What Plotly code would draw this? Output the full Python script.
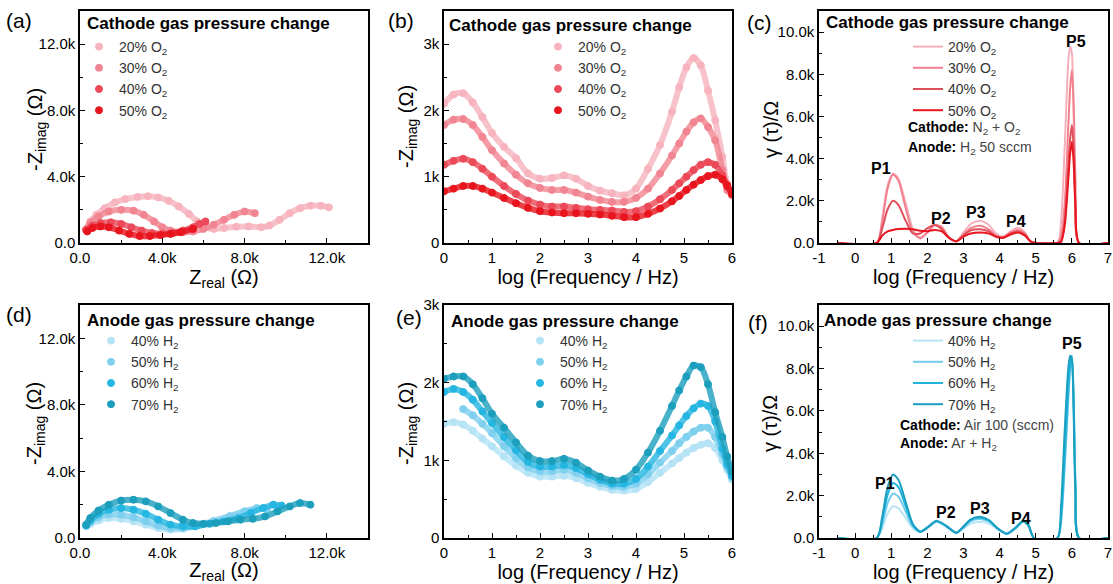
import plotly.graph_objects as go

W, H = 1113, 584

# ---------------- data (impedance values in kOhm) ----------------
# (a) Nyquist, cathode O2 change
a20_zre = [0.3, 0.5, 0.8, 1.2, 1.7, 2.2, 2.8, 3.3, 3.8, 4.3, 4.8, 5.3, 5.7, 6.1, 6.5, 7.0, 7.6, 8.2, 8.8, 9.2, 9.7, 10.2, 10.7, 11.2, 11.7, 12.1]
a20_zim = [0.8, 1.3, 1.7, 2.1, 2.45, 2.65, 2.78, 2.82, 2.75, 2.55, 2.2, 1.75, 1.3, 0.95, 0.85, 0.9, 0.98, 1.0, 0.95, 1.05, 1.4, 1.8, 2.1, 2.25, 2.25, 2.15]
a30_zre = [0.3, 0.5, 0.9, 1.4, 2.0, 2.6, 3.1, 3.6, 4.0, 4.4, 5.0, 5.5, 6.0, 6.5, 7.0, 7.5, 8.0, 8.5]
a30_zim = [0.8, 1.2, 1.6, 1.9, 2.0, 1.95, 1.7, 1.3, 0.95, 0.75, 0.65, 0.7, 0.85, 1.1, 1.4, 1.7, 1.9, 1.8]
a40_zre = [0.3, 0.6, 1.0, 1.5, 2.0, 2.5, 3.0, 3.5, 4.0, 4.5, 5.0, 5.5, 5.8, 6.1]
a40_zim = [0.8, 1.05, 1.2, 1.25, 1.15, 0.95, 0.75, 0.6, 0.55, 0.6, 0.75, 0.95, 1.15, 1.3]
a50_zre = [0.35, 0.6, 1.0, 1.4, 1.9, 2.4, 2.9, 3.4, 3.9, 4.4, 4.9, 5.5]
a50_zim = [0.7, 0.9, 1.0, 0.95, 0.75, 0.55, 0.42, 0.42, 0.48, 0.55, 0.65, 0.85]

# (d) Nyquist, anode H2 change
d40_zre = [0.3, 0.5, 0.9, 1.4, 2.0, 2.6, 3.2, 3.8, 4.4, 5.0, 5.7, 6.5, 7.3, 8.0, 8.5]
d40_zim = [0.7, 0.85, 1.05, 1.2, 1.15, 1.0, 0.8, 0.6, 0.5, 0.55, 0.75, 1.05, 1.35, 1.6, 1.7]
d50_zre = [0.3, 0.5, 0.9, 1.4, 2.0, 2.6, 3.2, 3.8, 4.4, 5.0, 5.7, 6.5, 7.3, 8.0, 8.6, 9.1]
d50_zim = [0.75, 0.95, 1.25, 1.42, 1.4, 1.25, 1.0, 0.75, 0.6, 0.6, 0.75, 1.0, 1.3, 1.6, 1.8, 1.75]
d60_zre = [0.3, 0.5, 0.9, 1.4, 2.0, 2.6, 3.2, 3.8, 4.4, 5.0, 5.6, 6.3, 7.0, 7.7, 8.3, 8.9, 9.4, 9.8]
d60_zim = [0.75, 1.05, 1.45, 1.7, 1.8, 1.7, 1.45, 1.1, 0.8, 0.7, 0.7, 0.85, 1.0, 1.2, 1.5, 1.8, 2.0, 1.95]
d70_zre = [0.3, 0.5, 0.9, 1.4, 2.0, 2.6, 3.2, 3.8, 4.4, 5.0, 5.5, 6.0, 6.6, 7.2, 7.8, 8.4, 9.0, 9.6, 10.2, 10.7, 11.2]
d70_zim = [0.8, 1.2, 1.65, 2.0, 2.25, 2.3, 2.2, 1.9, 1.5, 1.1, 0.9, 0.85, 0.9, 1.0, 1.1, 1.15, 1.3, 1.6, 1.9, 2.1, 2.0]

# (b) Bode, cathode O2 change
b_logf = [0, 0.2, 0.4, 0.6, 0.8, 1.0, 1.25, 1.5, 1.75, 2.0, 2.25, 2.5, 2.75, 3.0, 3.25,
          3.5, 3.75, 4.0, 4.25, 4.5, 4.75, 4.9, 5.05, 5.2, 5.35, 5.5, 5.65, 5.8, 5.9, 6.0]
b20 = [2.10, 2.24, 2.26, 2.12, 1.90, 1.66, 1.45, 1.28, 1.05, 0.97, 0.98, 1.02, 0.97, 0.86, 0.79,
       0.75, 0.72, 0.82, 1.12, 1.48, 1.98, 2.35, 2.65, 2.79, 2.68, 2.30, 1.85, 1.30, 0.88, 0.72]
b30 = [1.78, 1.86, 1.87, 1.78, 1.60, 1.40, 1.20, 1.03, 0.90, 0.83, 0.80, 0.80, 0.76, 0.70, 0.65,
       0.62, 0.62, 0.68, 0.82, 1.05, 1.32, 1.50, 1.68, 1.82, 1.88, 1.75, 1.55, 1.10, 0.80, 0.72]
b40 = [1.18, 1.24, 1.27, 1.22, 1.12, 1.00, 0.86, 0.74, 0.64, 0.58, 0.55, 0.55, 0.53, 0.51, 0.50,
       0.49, 0.47, 0.48, 0.55, 0.66, 0.80, 0.90, 1.00, 1.10, 1.18, 1.22, 1.18, 1.02, 0.88, 0.75]
b50 = [0.78, 0.82, 0.86, 0.86, 0.82, 0.76, 0.68, 0.60, 0.53, 0.48, 0.46, 0.45, 0.45, 0.44, 0.43,
       0.41, 0.39, 0.39, 0.44, 0.52, 0.63, 0.71, 0.80, 0.88, 0.95, 1.01, 1.03, 0.96, 0.86, 0.74]

# (e) Bode, anode H2 change
e_logf = b_logf
e40 = [1.47, 1.49, 1.46, 1.38, 1.28, 1.18, 1.05, 0.93, 0.84, 0.79, 0.79, 0.80, 0.77, 0.71, 0.66,
       0.62, 0.61, 0.63, 0.72, 0.84, 0.96, 1.03, 1.10, 1.16, 1.20, 1.22, 1.16, 1.00, 0.88, 0.75]
e50 = [None, None, 1.66, 1.58, 1.47, 1.35, 1.18, 1.03, 0.91, 0.86, 0.86, 0.88, 0.84, 0.77, 0.71,
       0.67, 0.66, 0.70, 0.82, 0.97, 1.12, 1.22, 1.30, 1.37, 1.42, 1.42, 1.30, 1.08, 0.92, 0.78]
e60 = [1.88, 1.92, 1.88, 1.78, 1.63, 1.48, 1.30, 1.13, 0.98, 0.92, 0.92, 0.94, 0.90, 0.82, 0.75,
       0.70, 0.70, 0.76, 0.92, 1.12, 1.32, 1.45, 1.57, 1.67, 1.73, 1.70, 1.50, 1.15, 0.95, 0.80]
e70 = [2.05, 2.08, 2.08, 1.98, 1.80, 1.60, 1.42, 1.23, 1.06, 0.99, 0.99, 1.02, 0.97, 0.87, 0.79,
       0.74, 0.76, 0.88, 1.10, 1.38, 1.70, 1.90, 2.08, 2.22, 2.20, 1.98, 1.62, 1.30, 1.05, 0.85]

# (c) DRT, cathode O2 change
c_logf = [-0.5, 0.6, 0.75, 0.9, 1.05, 1.2, 1.4, 1.6, 1.8, 2.0, 2.2, 2.4, 2.6, 2.8, 3.0, 3.2, 3.45,
          3.7, 3.9, 4.1, 4.3, 4.5, 4.7, 4.85, 5.0, 5.6, 5.7, 5.8, 5.9, 5.95, 6.0, 6.05, 6.1, 6.2, 7.0]
c20 = [0, 0, 1.2, 2.75, 3.3, 3.05, 1.9, 0.65, 0.2, 0.5, 0.85, 0.7, 0.25, 0.08, 0.5, 0.9, 1.05,
       0.85, 0.45, 0.3, 0.55, 0.72, 0.5, 0.08, 0, 0, 1.0, 4.5, 8.6, 9.3, 9.0, 6.0, 1.5, 0, 0]
c30 = [0, 0, 1.0, 2.6, 3.25, 2.95, 1.65, 0.5, 0.25, 0.5, 0.85, 0.75, 0.25, 0.08, 0.4, 0.7, 0.82,
       0.65, 0.35, 0.28, 0.5, 0.62, 0.45, 0.08, 0, 0, 0.3, 1.8, 5.5, 7.3, 8.2, 6.5, 3.0, 0, 0]
c40 = [0, 0, 0.7, 1.6, 2.0, 1.8, 1.05, 0.45, 0.45, 0.7, 0.85, 0.65, 0.25, 0.08, 0.35, 0.6, 0.65,
       0.55, 0.3, 0.25, 0.45, 0.55, 0.4, 0.08, 0, 0, 0.1, 1.0, 3.6, 4.9, 5.6, 4.5, 2.0, 0, 0]
c50 = [0, 0, 0.35, 0.55, 0.62, 0.66, 0.68, 0.65, 0.58, 0.56, 0.62, 0.55, 0.25, 0.08, 0.3, 0.45, 0.5,
       0.45, 0.3, 0.25, 0.4, 0.5, 0.35, 0.08, 0, 0, 0.05, 0.8, 3.0, 4.2, 4.8, 3.8, 1.7, 0, 0]

# (f) DRT, anode H2 change
f_logf = [-0.5, 0.6, 0.75, 0.9, 1.05, 1.2, 1.4, 1.6, 1.8, 2.0, 2.25, 2.5, 2.8, 3.0, 3.2, 3.45, 3.7,
          3.95, 4.2, 4.45, 4.65, 4.8, 4.95, 5.6, 5.7, 5.8, 5.9, 5.95, 6.0, 6.05, 6.1, 6.2, 7.0]
f40 = [0, 0, 0.45, 1.15, 1.5, 1.4, 0.95, 0.45, 0.28, 0.45, 0.75, 0.55, 0.22, 0.45, 0.68, 0.75, 0.68,
       0.4, 0.18, 0.45, 0.75, 0.55, 0, 0, 0.7, 3.2, 6.4, 7.8, 8.3, 6.3, 2.4, 0, 0]
f50 = [0, 0, 0.65, 1.65, 2.1, 1.95, 1.25, 0.55, 0.3, 0.48, 0.78, 0.58, 0.25, 0.5, 0.8, 0.9, 0.78,
       0.43, 0.2, 0.48, 0.78, 0.58, 0, 0, 0.8, 3.4, 6.6, 8.0, 8.5, 6.5, 2.5, 0, 0]
f60 = [0, 0, 0.85, 2.05, 2.6, 2.4, 1.5, 0.6, 0.3, 0.5, 0.8, 0.6, 0.25, 0.52, 0.85, 0.97, 0.83,
       0.45, 0.2, 0.5, 0.8, 0.6, 0, 0, 1.0, 3.8, 7.0, 8.2, 8.6, 6.5, 2.5, 0, 0]
f70 = [0, 0, 1.0, 2.4, 3.0, 2.75, 1.7, 0.65, 0.3, 0.5, 0.8, 0.6, 0.25, 0.55, 0.88, 1.0, 0.85,
       0.45, 0.2, 0.5, 0.8, 0.6, 0, 0, 1.5, 5.0, 8.0, 8.6, 8.4, 5.8, 2.0, 0, 0]

# labels
o2_names = ["20% O<sub>2</sub>", "30% O<sub>2</sub>", "40% O<sub>2</sub>", "50% O<sub>2</sub>"]
h2_names = ["40% H<sub>2</sub>", "50% H<sub>2</sub>", "60% H<sub>2</sub>", "70% H<sub>2</sub>"]

# ticks
nyq_ticks = [0, 4, 8, 12]
nyq_ticktext = ["0.0", "4.0k", "8.0k", "12.0k"]
nyq_minor = [2, 6, 10]
bode_x_ticks = [0, 1, 2, 3, 4, 5, 6]
bode_x_minor = [0.5, 1.5, 2.5, 3.5, 4.5, 5.5]
bode_y_ticks = [0, 1, 2, 3]
bode_y_ticktext = ["0", "1k", "2k", "3k"]
bode_y_minor = [0.5, 1.5, 2.5]
drt_x_ticks = [-1, 0, 1, 2, 3, 4, 5, 6, 7]
drt_x_minor = [-0.5, 0.5, 1.5, 2.5, 3.5, 4.5, 5.5, 6.5]
drt_y_ticks = [0, 2, 4, 6, 8, 10]
drt_y_ticktext = ["0.0", "2.0k", "4.0k", "6.0k", "8.0k", "10.0k"]
drt_y_minor = [1, 3, 5, 7, 9]

red_cols = ["#F7B3BE", "#F28592", "#EC4A58", "#E8141E"]
blue_cols = ["#B5E3F6", "#7FD0EF", "#25B6E2", "#1C9EBD"]
red_line_cols = ["#F7B0BB", "#F2808D", "#E0505B", "#E8161E"]
blue_line_cols = ["#B8E4F5", "#72CCEC", "#22B4DF", "#1A9FC0"]

FONT = "Arial, Liberation Sans, sans-serif"

fig = go.Figure()


def px_x(p):
    return p / W


def px_y(p):
    return 1 - p / H


def add_dots(xs, ys, col, name, ax, leg):
    fig.add_trace(go.Scatter(x=xs, y=ys, mode="lines", xaxis="x" + ax, yaxis="y" + ax,
                             line=dict(color=col, width=6, shape="spline", smoothing=0.8),
                             opacity=0.8, showlegend=False, hoverinfo="skip"))
    fig.add_trace(go.Scatter(x=xs, y=ys, mode="markers", xaxis="x" + ax, yaxis="y" + ax,
                             marker=dict(symbol="circle", size=7, color=col,
                                         line=dict(color=col, width=1)),
                             name=name, legend=leg, connectgaps=False))


def add_line(xs, ys, col, name, ax, leg):
    fig.add_trace(go.Scatter(x=xs, y=ys, mode="lines", xaxis="x" + ax, yaxis="y" + ax,
                             line=dict(color=col, width=2, shape="spline", smoothing=0.7),
                             name=name, legend=leg))


# (a)
for xs, ys, c, n in zip([a20_zre, a30_zre, a40_zre, a50_zre], [a20_zim, a30_zim, a40_zim, a50_zim], red_cols, o2_names):
    add_dots(xs, ys, c, n, "", "legend")
# (b)
for ys, c, n in zip([b20, b30, b40, b50], red_cols, o2_names):
    add_dots(b_logf, ys, c, n, "2", "legend2")
# (c)
for ys, c, n in zip([c20, c30, c40, c50], red_line_cols, o2_names):
    add_line(c_logf, ys, c, n, "3", "legend3")
# (d)
for xs, ys, c, n in zip([d40_zre, d50_zre, d60_zre, d70_zre], [d40_zim, d50_zim, d60_zim, d70_zim], blue_cols, h2_names):
    add_dots(xs, ys, c, n, "4", "legend4")
# (e)
for ys, c, n in zip([e40, e50, e60, e70], blue_cols, h2_names):
    add_dots(e_logf, ys, c, n, "5", "legend5")
# (f)
for ys, c, n in zip([f40, f50, f60, f70], blue_line_cols, h2_names):
    add_line(f_logf, ys, c, n, "6", "legend6")


def axis(dom, rng, tv, tt, minor, title, anchor):
    return dict(domain=dom, range=rng, anchor=anchor, tickmode="array", tickvals=tv, ticktext=tt,
                showline=True, linecolor="black", linewidth=1.5, mirror=True,
                ticks="inside", ticklen=5, tickwidth=1.2, tickcolor="black",
                minor=dict(ticks="inside", ticklen=3, tickwidth=1, tickcolor="black", tickmode="array", tickvals=minor),
                showgrid=False, zeroline=False, automargin=False,
                tickfont=dict(family=FONT, size=15, color="black"),
                title=dict(text=title, font=dict(family=FONT, size=20, color="black"), standoff=0))


xdA = [px_x(80), px_x(368)]
xdB = [px_x(444), px_x(732)]
xdC = [px_x(819), px_x(1108)]
ydT = [px_y(243), px_y(11)]
ydB = [px_y(538), px_y(305)]

ztitle = "Z<sub>real</sub> (Ω)"
zititle = "-Z<sub>imag</sub> (Ω)"
ftitle = "log (Frequency / Hz)"
gtitle = "γ (τ)/Ω"

legend_common = dict(bgcolor="rgba(0,0,0,0)", font=dict(family=FONT, size=14, color="#333"),
                     xanchor="left", yanchor="top", traceorder="normal")

fig.update_layout(
    width=W, height=H, margin=dict(l=0, r=0, t=0, b=0),
    paper_bgcolor="white", plot_bgcolor="white",
    font=dict(family=FONT, color="black"),
    xaxis=axis(xdA, [0, 14], nyq_ticks, nyq_ticktext, nyq_minor, ztitle, "y"),
    yaxis=axis(ydT, [0, 14], nyq_ticks, nyq_ticktext, nyq_minor, "", "x"),
    xaxis2=axis(xdB, [0, 6], bode_x_ticks, [str(v) for v in bode_x_ticks], bode_x_minor, ftitle, "y2"),
    yaxis2=axis(ydT, [0, 3.5], bode_y_ticks, bode_y_ticktext, bode_y_minor, "", "x2"),
    xaxis3=axis(xdC, [-1, 7], drt_x_ticks, [str(v) for v in drt_x_ticks], drt_x_minor, ftitle, "y3"),
    yaxis3=axis(ydT, [0, 11], drt_y_ticks, drt_y_ticktext, drt_y_minor, "", "x3"),
    xaxis4=axis(xdA, [0, 14], nyq_ticks, nyq_ticktext, nyq_minor, ztitle, "y4"),
    yaxis4=axis(ydB, [0, 14], nyq_ticks, nyq_ticktext, nyq_minor, "", "x4"),
    xaxis5=axis(xdB, [0, 6], bode_x_ticks, [str(v) for v in bode_x_ticks], bode_x_minor, ftitle, "y5"),
    yaxis5=axis(ydB, [0, 3], bode_y_ticks, bode_y_ticktext, bode_y_minor, "", "x5"),
    xaxis6=axis(xdC, [-1, 7], drt_x_ticks, [str(v) for v in drt_x_ticks], drt_x_minor, ftitle, "y6"),
    yaxis6=axis(ydB, [0, 11], drt_y_ticks, drt_y_ticktext, drt_y_minor, "", "x6"),
    legend=dict(x=px_x(79), y=px_y(31), **legend_common),
    legend2=dict(x=px_x(538), y=px_y(31), **legend_common),
    legend3=dict(x=px_x(908), y=px_y(31), **legend_common),
    legend4=dict(x=px_x(91), y=px_y(325), **legend_common),
    legend5=dict(x=px_x(520), y=px_y(325), **legend_common),
    legend6=dict(x=px_x(908), y=px_y(325), **legend_common),
    showlegend=True,
)

anns = []


def txt(text, x, y, size, anchor="left", bold=False, color="black", angle=0):
    anns.append(dict(text=("<b>%s</b>" % text) if bold else text, x=px_x(x), y=px_y(y),
                     xref="paper", yref="paper", xanchor=anchor, yanchor="middle", showarrow=False,
                     textangle=angle, font=dict(family=FONT, size=size, color=color)))


# y-axis titles
for t, x, y in [(zititle, 36, 130), (zititle, 407, 127), (gtitle, 771, 130),
                (zititle, 35, 424), (zititle, 407, 424), (gtitle, 770, 424)]:
    txt(t, x, y, 20, anchor="center", angle=-90)

# panel labels
for lab, x, y in [("(a)", 4, 20), ("(b)", 386, 21), ("(c)", 745, 23), ("(d)", 4, 314), ("(e)", 394, 317), ("(f)", 746, 322)]:
    txt(lab, x, y, 21)
# panel titles
for t, x, y in [("Cathode gas pressure change", 85, 24), ("Cathode gas pressure change", 447, 25),
                ("Cathode gas pressure change", 824, 23), ("Anode gas pressure change", 85, 320),
                ("Anode gas pressure change", 449, 321), ("Anode gas pressure change", 822, 320)]:
    txt(t, x, y, 17, bold=True)

gray = "#444"
txt("<b>Cathode:</b> <span style='color:%s'>N<sub>2</sub> + O<sub>2</sub></span>" % gray, 906, 128, 14)
txt("<b>Anode:</b> <span style='color:%s'>H<sub>2</sub> 50 sccm</span>" % gray, 906, 148, 14)
txt("<b>Cathode:</b> <span style='color:%s'>Air 100 (sccm)</span>" % gray, 898, 425, 14)
txt("<b>Anode:</b> <span style='color:%s'>Ar + H<sub>2</sub></span>" % gray, 898, 444, 14)

for t, x, y in [("P1", 881, 168), ("P2", 941, 218), ("P3", 976, 212), ("P4", 1016, 221), ("P5", 1076, 41),
                ("P1", 885, 483), ("P2", 946, 512), ("P3", 980, 508), ("P4", 1021, 518), ("P5", 1072, 343)]:
    txt(t, x, y, 16, anchor="center", bold=True)

fig.update_layout(annotations=anns)

fig.write_html("out.html")
